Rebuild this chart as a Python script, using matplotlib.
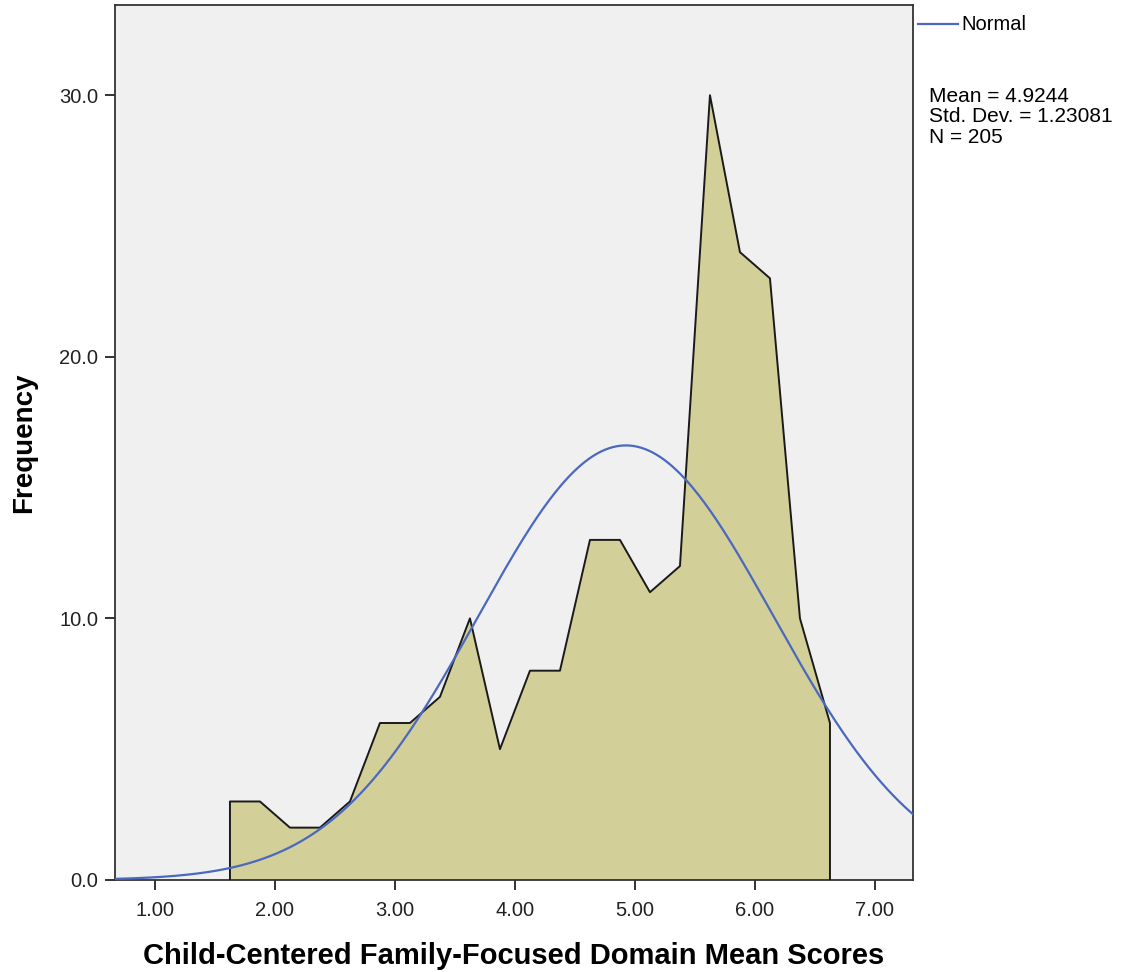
import numpy as np
import matplotlib.pyplot as plt

plt.rcParams["font.family"] = ["Liberation Sans", "DejaVu Sans"]

# bin midpoints and frequencies (bin width 0.25)
mids = [1.625 + 0.25 * i for i in range(21)]
freqs = [3, 3, 2, 2, 3, 6, 6, 7, 10, 5, 8, 8, 13, 13, 11, 12, 30, 24, 23, 10, 6]
mean = 4.9244
sd = 1.23081
n = 205
binw = 0.25

fig = plt.figure(figsize=(11.23, 9.72), dpi=100)
ax = fig.add_axes([0.1024, 0.0947, 0.7106, 0.9002])
ax.set_facecolor("#f0f0f0")

px = [mids[0]] + mids + [mids[-1]]
py = [0] + freqs + [0]
ax.fill(px, py, facecolor="#d3cf98", edgecolor="none", zorder=2)
ax.plot(px, py, color="#1a1a1a", lw=1.4, zorder=3)

xs = np.linspace(0.667, 7.317, 400)
ys = n * binw / (sd * np.sqrt(2 * np.pi)) * np.exp(-0.5 * ((xs - mean) / sd) ** 2)
ax.plot(xs, ys, color="#4a68c0", lw=1.6, zorder=4)

ax.set_xlim(0.667, 7.317)
ax.set_ylim(0, 33.45)
ax.set_xticks([1, 2, 3, 4, 5, 6, 7])
ax.set_xticklabels(["1.00", "2.00", "3.00", "4.00", "5.00", "6.00", "7.00"])
ax.set_yticks([0, 10, 20, 30])
ax.set_yticklabels(["0.0", "10.0", "20.0", "30.0"])
ax.tick_params(direction="out", length=7, width=1.3, labelsize=14.5, colors="#222222", pad=5)
ax.tick_params(axis="x", pad=8)
for s in ax.spines.values():
    s.set_linewidth(1.3)
    s.set_color("#333333")

ax.set_xlabel("Child-Centered Family-Focused Domain Mean Scores",
              fontsize=21, fontweight="bold", labelpad=16)
ax.set_ylabel("Frequency", fontsize=20, fontweight="bold", labelpad=16)

# legend and stats on the right
fig.add_artist(plt.Line2D([918 / 1123, 958 / 1123], [1 - 24 / 972] * 2,
                          color="#4a68c0", lw=1.6))
fig.text(961 / 1123, 1 - 24 / 972, "Normal", fontsize=14.5, va="center", ha="left")
fig.text(929 / 1123, 1 - 87 / 972, "Mean = 4.9244\nStd. Dev. = 1.23081\nN = 205",
         fontsize=15, va="top", ha="left", linespacing=1.1)

fig.savefig("out.png", dpi=100)
